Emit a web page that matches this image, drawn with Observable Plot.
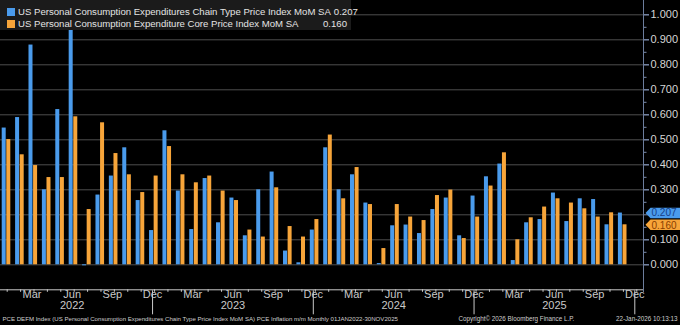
<!DOCTYPE html>
<html><head><meta charset="utf-8">
<script src="https://cdn.jsdelivr.net/npm/d3@7"></script>
<script src="https://cdn.jsdelivr.net/npm/@observablehq/plot@0.6"></script>
<style>
html,body{margin:0;padding:0;background:#000;}
#wrap{position:relative;width:680px;height:325px;overflow:hidden;background:#000;font-family:"Liberation Sans",Arial,sans-serif;}
#legend{position:absolute;left:0;top:0;width:351px;height:30px;background:#1b1b1b;color:#e4e4e4;font-size:9.6px;}
.row{position:absolute;left:7px;width:340px;height:12px;line-height:12px;display:flex;align-items:center;white-space:nowrap;}
.sw{width:8px;height:8px;margin-right:3px;flex:none;}
.name{flex:1;}
.val{text-align:right;padding-left:3px;}
</style></head><body><div id="wrap"></div>
<script>
// ---- data ----
const seriesNames = [
  "US Personal Consumption Expenditures Chain Type Price Index MoM SA",
  "US Personal Consumption Expenditure Core Price Index MoM SA"
];
const seriesColors = ["#4a9bec", "#f7a53a"];
// Jan 2022 .. Nov 2025, monthly
const headline = [
  0.547, 0.589, 0.879, 0.300, 0.621, 0.975, -0.004, 0.279, 0.355, 0.468, 0.257, 0.137,
  0.536, 0.295, 0.141, 0.345, 0.168, 0.267, 0.116, 0.300, 0.371, 0.055, 0.008, 0.139,
  0.468, 0.300, 0.360, 0.247, 0.005, 0.156, 0.159, 0.125, 0.221, 0.267, 0.116, 0.275,
  0.352, 0.403, 0.017, 0.168, 0.181, 0.287, 0.173, 0.264, 0.261, 0.160, 0.207
];
const core = [
  0.501, 0.440, 0.397, 0.349, 0.349, 0.592, 0.221, 0.568, 0.445, 0.360, 0.289, 0.355,
  0.473, 0.360, 0.328, 0.355, 0.295, 0.257, 0.139, 0.111, 0.308, 0.153, 0.111, 0.181,
  0.519, 0.264, 0.389, 0.241, 0.065, 0.241, 0.191, 0.177, 0.277, 0.299, 0.105, 0.191,
  0.315, 0.448, 0.100, 0.188, 0.231, 0.264, 0.247, 0.224, 0.191, 0.208, 0.160
];
const yTicks = [0, 0.1, 0.2, 0.3, 0.4, 0.5, 0.6, 0.7, 0.8, 0.9, 1.0];
// 0.200 label is hidden behind the last-value tags in the reference
const yLabelTicks = [0, 0.1, 0.3, 0.4, 0.5, 0.6, 0.7, 0.8, 0.9, 1.0];
const yMinorTicks = [0.05, 0.15, 0.25, 0.35, 0.45, 0.55, 0.65, 0.75, 0.85, 0.95];
const monthLabels = {"03": "Mar", "06": "Jun", "09": "Sep", "12": "Dec"};
const footerLeft = "PCE DEFM Index (US Personal Consumption Expenditures Chain Type Price Index MoM SA) PCE Inflation m/m Monthly 01JAN2022-30NOV2025";
const footerMid = "Copyright\u00A9 2026 Bloomberg Finance L.P.";
const footerRight = "22-Jan-2026 10:13:13";

// ---- derived tables ----
const fmtKey = d3.utcFormat("%Y-%m");
const axisMonths = d3.utcMonth.range(new Date(Date.UTC(2022, 0, 1)), new Date(Date.UTC(2026, 0, 1))).map(fmtKey);
const dataMonths = axisMonths.slice(0, headline.length);
const headRows = dataMonths.map((m, i) => ({month: m, value: headline[i]}));
const coreRows = dataMonths.map((m, i) => ({month: m, value: core[i]}));
const quarterKeys = axisMonths.filter(k => monthLabels[k.slice(5)]);
const juneKeys = axisMonths.filter(k => k.endsWith("-06"));
const decKeys = axisMonths.filter(k => k.endsWith("-12"));
const lastHead = headRows[headRows.length - 1];
const lastCore = coreRows[coreRows.length - 1];
const fmt3 = d3.format(".3f");

const tagSymbol = {
  draw(ctx) {
    ctx.moveTo(2, 0);
    ctx.lineTo(7, -5.3);
    ctx.lineTo(40, -5.3);
    ctx.lineTo(40, 5.3);
    ctx.lineTo(7, 5.3);
    ctx.closePath();
  }
};

const axisColor = "#c9c9c9";
const chart = Plot.plot({
  width: 680,
  height: 325,
  marginLeft: 0,
  marginRight: 37,
  marginTop: 14.3,
  marginBottom: 35.7,
  style: {background: "#000", color: axisColor, fontFamily: "Liberation Sans, Arial, sans-serif", overflow: "visible"},
  x: {type: "band", domain: axisMonths, padding: 0, round: false, axis: null},
  y: {domain: [-0.1, 1.0], axis: null},
  marks: [
    Plot.gridY(yTicks, {stroke: "#4e4e4e", strokeOpacity: 1}),
    Plot.barY(headRows, {x: "month", y: "value", fill: seriesColors[0], insetLeft: 1.7, insetRight: 7.7}),
    Plot.barY(coreRows, {x: "month", y: "value", fill: seriesColors[1], insetLeft: 6.3, insetRight: 3.1}),
    Plot.frame({anchor: "bottom", stroke: axisColor}),
    Plot.axisX({ticks: axisMonths, tickSize: 2.5, tickFormat: () => "", stroke: axisColor, label: null}),
    Plot.text(quarterKeys, {x: d => d, text: d => monthLabels[d.slice(5)], frameAnchor: "bottom", dy: 8, dx: -2, fill: axisColor, fontSize: 11}),
    Plot.text(juneKeys, {x: d => d, text: d => d.slice(0, 4), frameAnchor: "bottom", dy: 19, dx: -2, fill: axisColor, fontSize: 11}),
    Plot.ruleX(decKeys, {x: d => d, dx: -2, y1: -0.104, y2: -0.2, stroke: axisColor}),
    Plot.frame({anchor: "right", stroke: "#6c7d9c", insetTop: -14.3, insetBottom: -2}),
    Plot.axisY({anchor: "right", ticks: yTicks, tickFormat: () => "", tickSize: 5, stroke: "#7d8eae", label: null}),
    Plot.axisY({anchor: "right", ticks: yLabelTicks, tickFormat: fmt3, tickSize: 5, tickPadding: 2, stroke: "#7d8eae", fill: "#d6d6d6", fontSize: 11, label: null}),
    Plot.axisY({anchor: "right", ticks: yMinorTicks, tickFormat: () => "", tickSize: 2.5, stroke: "#7d8eae", label: null}),
    Plot.dot([lastHead], {y: "value", frameAnchor: "right", symbol: tagSymbol, fill: seriesColors[0], stroke: "none", r: 1}),
    Plot.dot([lastCore], {y: "value", frameAnchor: "right", symbol: tagSymbol, fill: seriesColors[1], stroke: "none", r: 1}),
    Plot.text([lastHead], {y: "value", text: d => fmt3(d.value), frameAnchor: "right", dx: 8, dy: -0.5, textAnchor: "start", fill: "#173f86", fontSize: 10}),
    Plot.text([lastCore], {y: "value", text: d => fmt3(d.value), frameAnchor: "right", dx: 8, dy: 0.5, textAnchor: "start", fill: "#8a3d00", fontSize: 10}),
    Plot.text([footerLeft], {text: d => d, frameAnchor: "bottom-left", dx: 2, dy: 31, textAnchor: "start", fill: "#cfcfcf", fontSize: 6.1}),
    Plot.text([footerMid], {text: d => d, frameAnchor: "bottom-left", dx: 458, dy: 31, textAnchor: "start", fill: "#cfcfcf", fontSize: 6.3}),
    Plot.text([footerRight], {text: d => d, frameAnchor: "bottom-right", dx: 34, dy: 31, textAnchor: "end", fill: "#cfcfcf", fontSize: 6.3})
  ]
});
const wrap = document.getElementById("wrap");
wrap.appendChild(chart);

// legend
const legend = document.createElement("div");
legend.id = "legend";
const lastVals = [headline[headline.length - 1], core[core.length - 1]];
seriesNames.forEach((name, i) => {
  const row = document.createElement("div");
  row.className = "row";
  row.style.top = (6 + i * 12) + "px";
  row.innerHTML = `<span class="sw" style="background:${seriesColors[i]}"></span><span class="name">${name}</span><span class="val">${fmt3(lastVals[i])}</span>`;
  legend.appendChild(row);
});
wrap.appendChild(legend);
</script></body></html>
